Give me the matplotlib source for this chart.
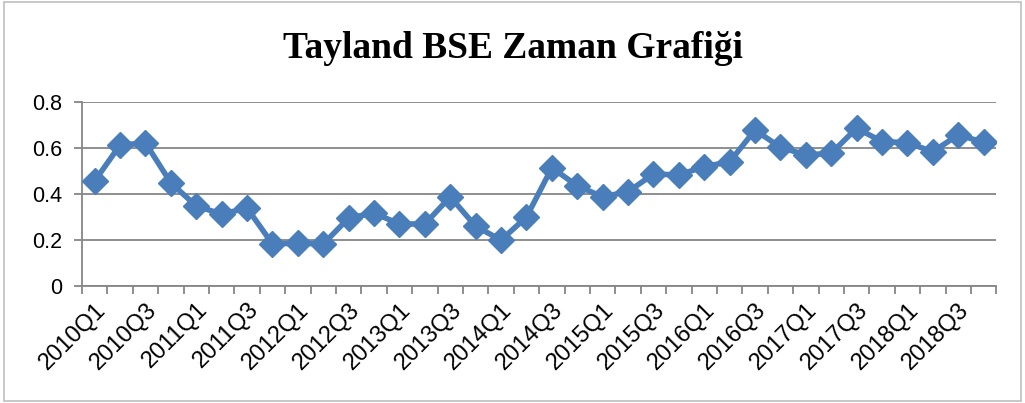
import matplotlib.pyplot as plt
from matplotlib.patches import Rectangle

quarters = [f"{y}Q{q}" for y in range(2010, 2019) for q in range(1, 5)]
values = [0.457, 0.613, 0.622, 0.448, 0.348, 0.313, 0.339, 0.183, 0.187, 0.183,
          0.296, 0.317, 0.270, 0.270, 0.388, 0.260, 0.200, 0.300, 0.514, 0.436,
          0.388, 0.410, 0.487, 0.483, 0.519, 0.540, 0.678, 0.603, 0.570, 0.577,
          0.686, 0.628, 0.623, 0.584, 0.657, 0.625]
yticks = [0, 0.2, 0.4, 0.6, 0.8]
ytick_labels = ["0", "0.2", "0.4", "0.6", "0.8"]

fig = plt.figure(figsize=(10.25, 4.03), dpi=100)
ax = fig.add_axes([0.080, 0.290, 0.892, 0.457])

x = list(range(len(values)))
ax.plot(x, values, color='#4A7EBB', lw=4, marker='D', markersize=13,
        markeredgecolor='#4A7EBB', zorder=3, solid_joinstyle='round')

ax.set_xlim(-0.5, len(values) - 0.5)
ax.set_ylim(0, 0.8)
ax.set_yticks(yticks)
ax.set_yticklabels(ytick_labels, fontsize=15.5, family='Liberation Sans')
ax.yaxis.grid(True, color='#868686', lw=1.3)
ax.set_axisbelow(True)

ax.set_xticks(x[::2])
ax.set_xticklabels(quarters[::2], rotation=45, ha='right', rotation_mode='anchor',
                   fontsize=17, family='Liberation Sans')
ax.set_xticks([i - 0.5 for i in range(len(values) + 1)], minor=True)
ax.tick_params(axis='x', which='major', length=0, pad=9)
ax.tick_params(axis='x', which='minor', length=6, color='#868686', width=1.3, direction='out')
ax.tick_params(axis='y', length=6, color='#868686', width=1.3, pad=8)

for s in ['top', 'right']:
    ax.spines[s].set_visible(False)
for s in ['left', 'bottom']:
    ax.spines[s].set_color('#868686')
    ax.spines[s].set_linewidth(1.3)

fig.text(0.5, 0.88, "Tayland BSE Zaman Grafiği", ha='center', va='center',
         fontsize=27, fontweight='bold', family='Liberation Serif')

fig.patches.append(Rectangle((0.004, 0.006), 0.992, 0.99, transform=fig.transFigure,
                             fill=False, edgecolor='#BFBFBF', lw=1.2))

fig.savefig('out.png', dpi=100)
